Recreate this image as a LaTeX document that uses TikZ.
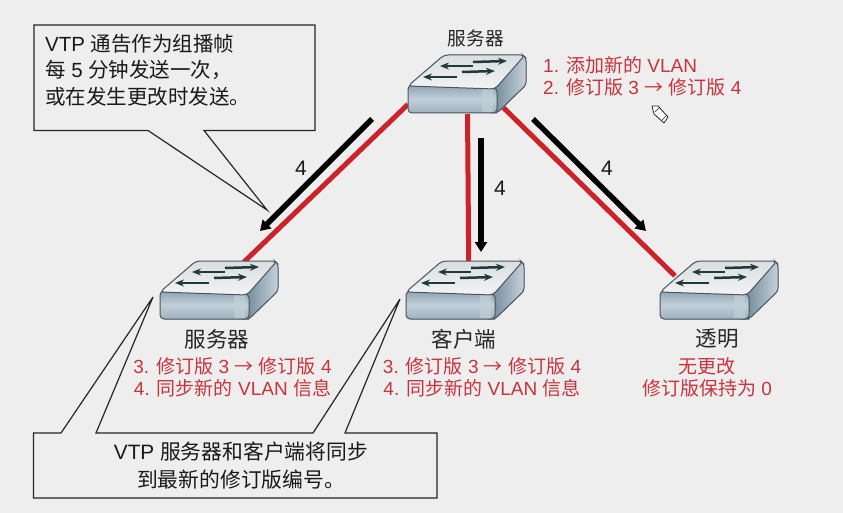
\documentclass[tikz,border=0pt]{standalone}
\usepackage{fontspec}
\setmainfont{Noto Sans CJK SC}
\newfontfamily\lat{Liberation Sans}
\usetikzlibrary{arrows.meta}
\definecolor{bgc}{HTML}{EEEEEE}
\definecolor{redtxt}{HTML}{C8333C}
\definecolor{redln}{HTML}{CC2229}
\definecolor{edgec}{HTML}{4D565E}
\definecolor{arrc}{HTML}{1F3A3A}
\definecolor{frtop}{HTML}{8FA4B4}
\definecolor{frmid}{HTML}{C2CFD8}
\definecolor{frbot}{HTML}{9DB1BF}
\definecolor{sdl}{HTML}{6F8799}
\definecolor{sdr}{HTML}{C5D1D9}
\definecolor{toptop}{HTML}{DADEE0}
\definecolor{topbot}{HTML}{F2F3F4}
\tikzset{
  swbox/.style={minimum width=118pt,minimum height=60pt,inner sep=0pt,outer sep=0pt},
  redlink/.style={draw=redln,line width=5pt},
  msg/.style={-{Triangle[length=10pt,width=12pt]},line width=5.4pt,black},
  callout/.style={draw=black!85,line width=1.2pt,line join=miter,fill=bgc},
  blk/.style={inner sep=0pt,text=black!85,font=\fontsize{18.7}{22}\selectfont},
  blkb/.style={inner sep=0pt,text=black!85,font=\fontsize{21.5}{24}\selectfont},
  red/.style={inner sep=0pt,text=redtxt,font=\fontsize{19}{21.5}\selectfont,align=center},
  cnt/.style={inner sep=0pt,text=black!90,align=center,font=\fontsize{20.8}{28.5}\selectfont},
  cntl/.style={inner sep=0pt,text=black!90,align=left,font=\fontsize{20.5}{26.5}\selectfont},
  num/.style={inner sep=0pt,text=black!90,font=\lat\fontsize{21}{24}\selectfont},
  swarr/.style={-{Stealth[length=9pt,width=7pt]},line width=2.5pt,arrc},
}
\newcommand{\swart}[2]{%
 \begin{scope}[shift={(#1,#2)}]
  % right side
  \fill[draw=edgec,line width=1pt,rounded corners=3pt,left color=sdl,right color=sdr]
    (84,34) -- (115,1) -- (118,4) -- (118,31) -- (89,59) -- (84,59) -- cycle;
  % front
  \fill[draw=edgec,line width=1pt,rounded corners=4pt,top color=frtop,bottom color=frbot,middle color=frmid]
    (0,31) -- (89,34) -- (89,59) -- (0,59) -- cycle;
  \fill[frmid,opacity=.7] (74,34.5) rectangle (85,58.4);
  % top
  \fill[draw=edgec,line width=1pt,rounded corners=4pt,bottom color=topbot,top color=toptop]
    (0,32) -- (36,1) -- (117,1) -- (87,35) -- cycle;
  \draw[swarr] (65,8) -- (99,7);
  \draw[swarr] (65,12) -- (32,12);
  \draw[swarr] (54,18) -- (87,17);
  \draw[swarr] (49,23) -- (15,23);
 \end{scope}}
\newcommand{\revline}[1]{{\lat #1. }修订版{\lat\ 3 }→{\lat\ }修订版{\lat\ 4}}
\newcommand{\syncline}{{\lat 4. }同步新的{\lat\ VLAN }信息}
\begin{document}
\begin{tikzpicture}[x=1pt,y=-1pt]
\useasboundingbox (0,0) rectangle (843,513);
\fill[bgc] (0,0) rectangle (843,513);
% switch place holders
\node[swbox] (top)   at (467,84) {};
\node[swbox] (left)  at (219,290) {};
\node[swbox] (mid)   at (465,290) {};
\node[swbox] (right) at (719,290) {};
% red links
\draw[redlink,shorten >=-3pt] (top.199.6) -- (left.48.5);
\draw[redlink,shorten >=-3pt] (top.271) -- (mid.83);
\draw[redlink,shorten >=-21pt,shorten <=-9pt] (top.-35.5) -- (right.154.4);
% switches
\swart{408}{54}
\swart{160}{260}
\swart{406}{260}
\swart{660}{260}
% black message arrows
\coordinate (a1s) at (372,119); \coordinate (a1e) at (260,231);
\coordinate (a2s) at (481,138); \coordinate (a2e) at (481,252);
\coordinate (a3s) at (533,119); \coordinate (a3e) at (646,231);
\draw[msg] (a1s) -- (a1e);
\draw[msg] (a2s) -- (a2e);
\draw[msg] (a3s) -- (a3e);
\node[num] (n1) at (301,168) {4};
\node[num] (n2) at (500,188) {4};
\node[num] (n3) at (607,168) {4};
% callouts
\draw[callout] (34,25) -- (315,25) -- (315,130.5) -- (204,130.5) -- (267,210) -- (148,130.5) -- (34,130.5) -- cycle;
\node[cntl,anchor=north west] (c1) at (45,34) {{\lat VTP }通告作为组播帧\\每{\lat\ 5 }分钟发送一次，\\或在发生更改时发送。};
\draw[callout] (33.5,433) -- (61,433) -- (153,297) -- (96,433) -- (313,433) -- (400,299) -- (345,433) -- (437,433) -- (437,498) -- (33.5,498) -- cycle;
\node[cnt] (c2) at (241,465.5) {{\lat VTP }服务器和客户端将同步\\到最新的修订版编号。};
% labels
\node[blk] (t0) at (476,38) {服务器};
\node[blkb] (t1) at (217,339) {服务器};
\node[blkb] (t2) at (464,339) {客户端};
\node[blkb] (t3) at (717,339) {透明};
\node[red,anchor=west] (r0a) at (543,65) {{\lat 1. }添加新的{\lat\ VLAN}};
\node[red,anchor=west] (r0b) at (543,87) {{\lat 2. }修订版{\lat\ 3 }→{\lat\ }修订版{\lat\ 4}};
\node[red] (r1) at (232.5,377.5) {\revline{3}\\\syncline};
\node[red] (r2) at (482,377.5) {\revline{3}\\\syncline};
\node[red] (r3) at (707,377.5) {无更改\\修订版保持为{\lat\ 0}};
% pencil cursor
\draw[black!85,fill=white,line width=.8pt,line join=round]
  (652,106) -- (658,106) -- (668,117) -- (664,123) -- (654,114) -- cycle;
\draw[black!85,line width=.6pt] (655,112) -- (660,107) (662,120) -- (667,115);
\end{tikzpicture}
\end{document}
